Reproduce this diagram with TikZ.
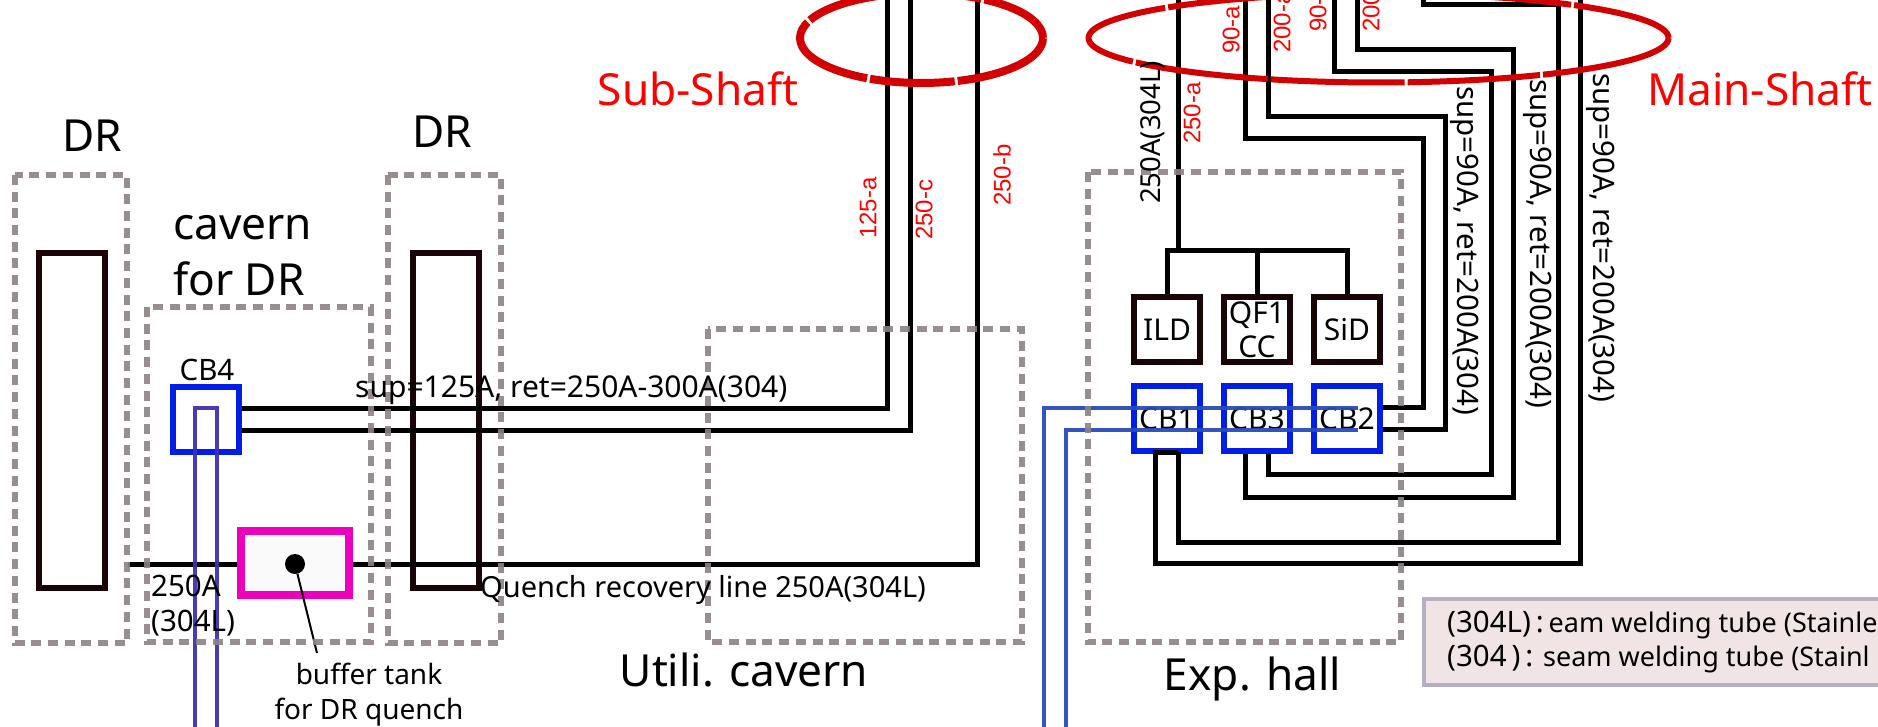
\documentclass[tikz,border=0pt]{standalone}
\usepackage{fontspec}
\setmainfont{Noto Sans}
\newfontfamily\tagfont{Liberation Sans}
\usetikzlibrary{positioning}
\definecolor{shaftred}{RGB}{210, 0, 0}
\definecolor{labelred}{RGB}{255, 0, 0}
\definecolor{areagrey}{RGB}{140, 130, 130}
\definecolor{cbblue}{RGB}{0, 30, 230}
\definecolor{feedblue}{RGB}{40, 75, 190}
\definecolor{feedviolet}{RGB}{60, 50, 180}
\definecolor{detbrown}{RGB}{25, 5, 5}
\definecolor{tankpink}{RGB}{235, 0, 190}
\definecolor{notefill}{RGB}{240, 228, 228}
\definecolor{noteedge}{RGB}{180, 175, 195}

\begin{document}
\begin{tikzpicture}[
    x=1pt, y=-1pt,
    area/.style={draw=areagrey, line width=5.5pt, dash pattern=on 10pt off 6.7pt, draw opacity=0.9},
    pipe/.style={draw=black, line width=5pt},
    feed/.style={draw=feedblue, line width=4.5pt, draw opacity=0.95},
    ring/.style={draw=shaftred},
    unitbox/.style={
      draw, line width=6pt, minimum width=66pt, minimum height=65pt,
      inner sep=0pt, align=center, font=\fontsize{30}{34}\selectfont
    },
    cbbox/.style={unitbox, draw=cbblue},
    detbox/.style={unitbox, draw=detbrown},
    drbox/.style={unitbox, draw=detbrown, minimum height=335pt},
    bigtext/.style={font=\fontsize{44.2}{56}\selectfont, inner sep=0pt, align=left},
    redtext/.style={bigtext, text=labelred},
    small/.style={font=\fontsize{29.5}{35}\selectfont, inner sep=0pt, align=left},
    tagtext/.style={font=\tagfont\fontsize{24}{28}\selectfont, text=labelred, rotate=90, inner sep=0pt, anchor=west},
    runtext/.style={small, rotate=-90, anchor=west},
    node distance=18pt,
]
    \useasboundingbox (0,0) rectangle (1878,727);

    % DR columns
    \node[drbox] (drl) at (72,420.5) {};
    \node[drbox] (drr) at (445.5,420.5) {};

    % CB4 and buffer tank
    \node[cbbox] (cbf) at (206,419) {};
    \node[draw=tankpink, line width=8pt, fill=black!2, minimum width=108pt, minimum height=64pt, inner sep=0pt] (tank) at (295,563) {};
    \node[circle, fill=black, minimum size=20pt, inner sep=0pt] (tankdot) at (295,564) {};
    \coordinate (tanktip) at (317,653);
    \draw[line width=2pt] (tankdot) -- (tanktip);

    % Exp. hall detectors
    \node[detbox] (ild) at (1167,329.5) {ILD};
    \node[detbox, right=of ild] (qf) {QF1\\CC};
    \node[detbox, right=of qf] (sid) {SiD};
    \node[cbbox, below=of ild] (cba) {CB1};
    \node[cbbox, below=of qf] (cbc) {CB3};
    \node[cbbox, below=of sid] (cbb) {CB2};

    % Sub-shaft pipes
    \coordinate (subtopa) at (887,0);
    \coordinate (subtopc) at (910,0);
    \coordinate (subtopb) at (977,0);
    \draw[pipe] ([yshift=11pt]cbf.east) -| (subtopa);
    \draw[pipe] ([yshift=-11pt]cbf.east) -| (subtopc);
    \coordinate (quenchend) at (128,564);
    \draw[pipe] (quenchend) -- (quenchend -| tank.west);
    \draw[pipe] (tank.east |- quenchend) -| (subtopb);

    % Main-shaft pipes
    \coordinate (treejoin) at (1178,251);
    \coordinate (maintop) at (1178,0);
    \draw[pipe] (treejoin) -- (maintop);
    \draw[pipe] (ild.north) |- (treejoin) -| (sid.north);
    \draw[pipe] (qf.north) -- (qf.north |- treejoin);
    \draw[pipe] ([yshift=11pt]cbb.east) -| (1423.5,139) -| (1245,0);
    \draw[pipe] ([yshift=-11pt]cbb.east) -| (1445.5,117) -| (1268,0);
    \draw[pipe] ([xshift=11pt]cbc.south) |- (1491,474) |- (1334.5,72) -- (1334.5,0);
    \draw[pipe] ([xshift=-11.5pt]cbc.south) |- (1513.5,497) |- (1357,50) -- (1357,0);
    \draw[pipe] ([xshift=11pt,yshift=2pt]cba.south) |- (1558,542) |- (1423.5,5) -- (1423.5,0);
    \draw[pipe] ([xshift=11pt,yshift=2pt]cba.south) -- ([xshift=-11.5pt,yshift=2pt]cba.south) |- (1580,563) -- (1580,0);

    % Transfer lines
    \coordinate (feedfoota) at (1044,727);
    \coordinate (feedfootb) at (1066,727);
    \draw[feed] (feedfoota) |- (1358,408);
    \draw[feed] (feedfootb) |- (1358,430);
    \coordinate (cbffoota) at (195,727);
    \coordinate (cbffootb) at (217,727);
    \draw[feed, draw=feedviolet] (cbffoota) |- (cbffootb |- 0,408) -- (cbffootb);

    % Areas
    \draw[area] (15,175) rectangle (127,643);
    \draw[area] (388,175) rectangle (501,643);
    \draw[area] (147,307) rectangle (371,642);
    \draw[area] (708,329) rectangle (1022,642);
    \draw[area] (1088,172) rectangle (1401,642);

    % Shaft rings
    \draw[ring, line width=8pt, dash pattern=on 74.5pt off 3pt on 177pt off 3pt on 101pt off 3pt on 85pt off 3pt on 97.5pt off 0pt]
      (921.5,38) circle[x radius=121.5pt, y radius=45pt];
    \draw[ring, line width=6pt, dash pattern=on 103.5pt off 3pt on 404pt off 3pt on 138pt off 3pt on 133pt off 3pt on 134pt off 3pt on 132.7pt off 3pt on 134.3pt off 0pt]
      (1378.5,38) circle[x radius=290pt, y radius=44.5pt];

    % Area labels
    \node[redtext] (sublabel) at (698,89) {Sub-Shaft};
    \node[redtext] (mainlabel) at (1760,89) {Main-Shaft};
    \node[bigtext] (drllabel) at (92.5,135.5) {DR};
    \node[bigtext] (drrlabel) at (442,132) {DR};
    \node[bigtext, anchor=west] (cavernlabel) at (173,256) {cavern\\for DR};
    \node[bigtext] (utililabel) at (744,670) {Utili. cavern};
    \node[bigtext] (halllabel) at (1252.5,679) {Exp. hall};

    % Line labels
    \node[small] (cbflabel) at (207,370) {CB4};
    \node[small, font=\fontsize{30}{35}\selectfont, anchor=west] (dnlabel) at (355,390) {sup=125A, ret=250A-300A(304)};
    \node[small, font=\fontsize{29}{35}\selectfont, anchor=west] (quenchlabel) at (480,590) {Quench recovery line 250A(304L)};
    \node[small, anchor=west] (quenchsize) at (151,606) {250A\\(304L)};
    \node[small, font=\fontsize{28}{35}\selectfont, align=center] (tanklabel) at (369,695) {buffer tank\\for DR quench};
    \node[small, font=\fontsize{27.5}{33}\selectfont, rotate=90, anchor=west] (stemlabel) at (1153,204) {250A(304L)};
    \node[runtext] (runa) at (1465,86) {sup=90A, ret=200A(304)};
    \node[runtext] (runb) at (1538,79) {sup=90A, ret=200A(304)};
    \node[runtext] (runc) at (1601,73) {sup=90A, ret=200A(304)};

    % Pipe tags
    \node[tagtext] (tagfa) at (868,239) {125-a};
    \node[tagtext] (tagfc) at (924,240) {250-c};
    \node[tagtext] (tagfb) at (1002,206) {250-b};
    \node[tagtext] (tagma) at (1192,144) {250-a};
    \node[tagtext] (tagmb) at (1231,54) {90-a};
    \node[tagtext] (tagmc) at (1282,53) {200-a};
    \node[tagtext] (tagmd) at (1318,32) {90-a};
    \node[tagtext] (tagme) at (1371,32) {200-a};

    % Material note
    \node[draw=noteedge, line width=4pt, fill=notefill, minimum width=480pt, minimum height=86pt, anchor=north west] (note) at (1422,597) {};
    \node[small, anchor=west] (noteone) at (1447,625) {(304L)\,:\,{\fontsize{27}{35}\selectfont eam welding tube (Stainle}};
    \node[small, anchor=west] (notetwo) at (1447,659) {(304\,)\,:\,\,{\fontsize{27}{35}\selectfont seam welding tube (Stainl}};
\end{tikzpicture}
\end{document}
